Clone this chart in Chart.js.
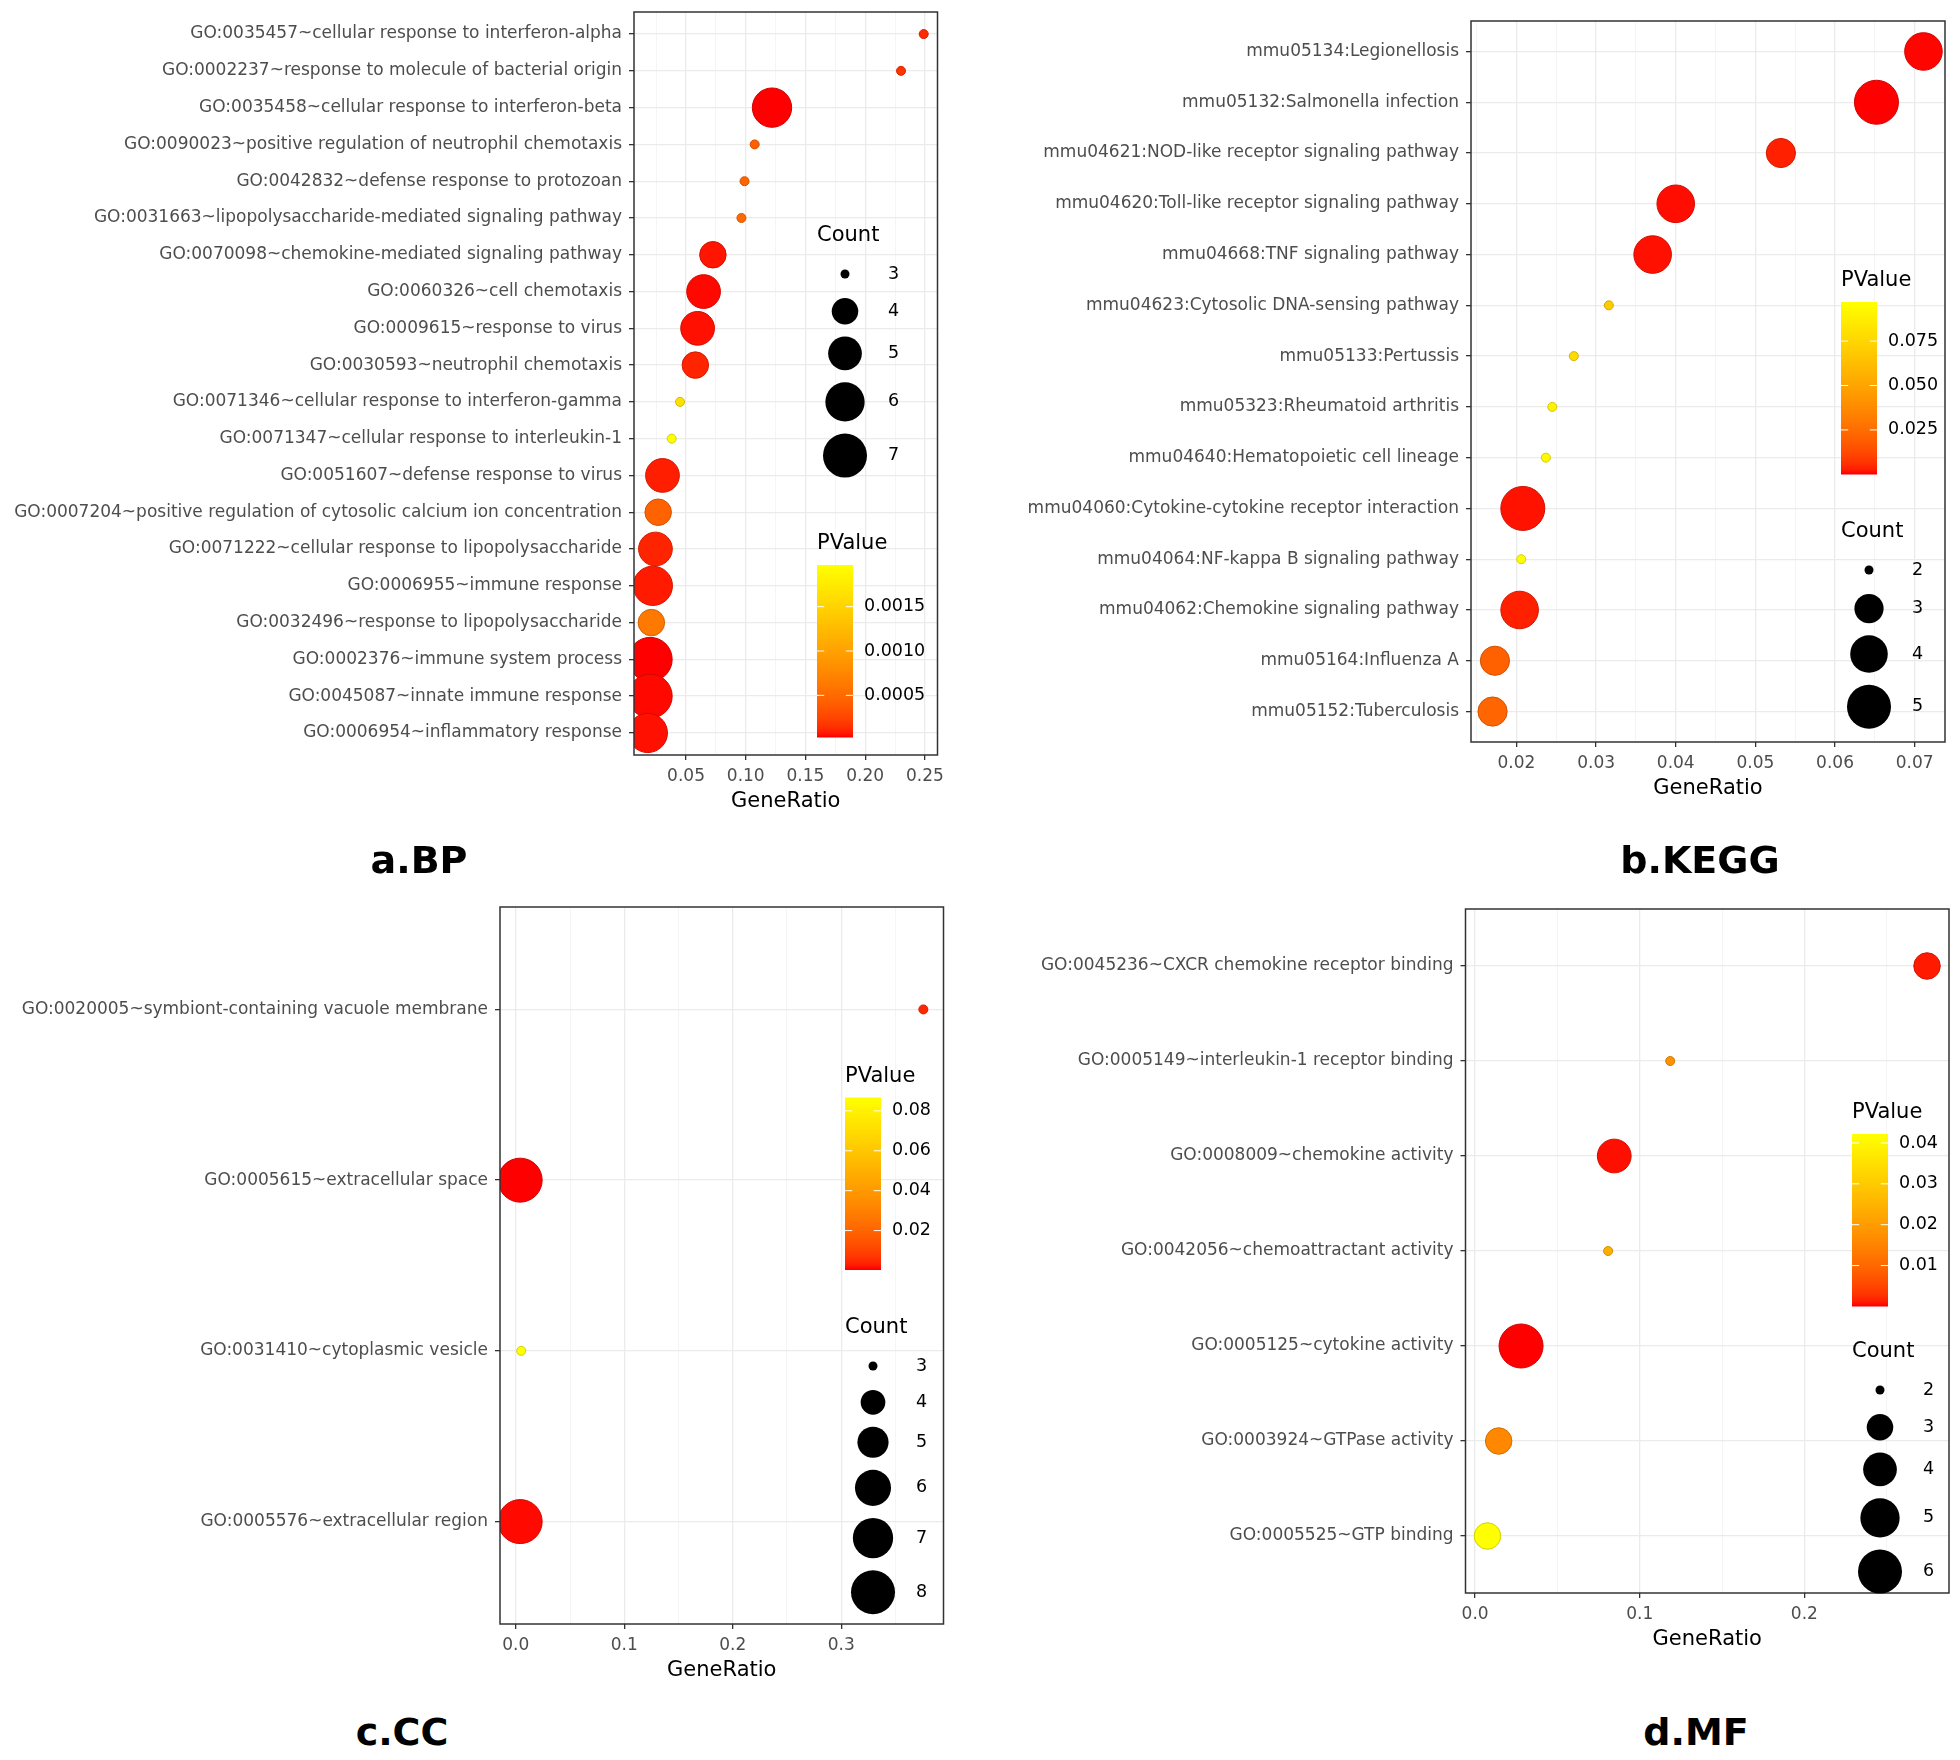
<!DOCTYPE html>
<html>
<head>
<meta charset="utf-8">
<script src="https://cdn.jsdelivr.net/npm/chart.js@4.4.1/dist/chart.umd.min.js"></script>
<style>
body { margin: 0; background: #fff; }
#page { position: relative; width: 1960px; height: 1760px; overflow: hidden; }
#page canvas { position: absolute; }
.tag { position: absolute; width: 240px; text-align: center; font: bold 38px "DejaVu Sans", sans-serif; line-height: 38px; color: #000; }
</style>
</head>
<body>
<div id="page">
  <canvas id="bp" width="980" height="840" style="left:0;top:0"></canvas>
  <canvas id="kegg" width="980" height="840" style="left:980px;top:0"></canvas>
  <canvas id="cc" width="980" height="820" style="left:0;top:880px"></canvas>
  <canvas id="mf" width="980" height="820" style="left:980px;top:880px"></canvas>
  <div class="tag" style="left:299px;top:841px">a.BP</div>
  <div class="tag" style="left:1580px;top:841px">b.KEGG</div>
  <div class="tag" style="left:282px;top:1713px">c.CC</div>
  <div class="tag" style="left:1576px;top:1713px">d.MF</div>
</div>
<script>
// ---- a. BP ----
const bpTerms = [
  'GO:0035457~cellular response to interferon-alpha',
  'GO:0002237~response to molecule of bacterial origin',
  'GO:0035458~cellular response to interferon-beta',
  'GO:0090023~positive regulation of neutrophil chemotaxis',
  'GO:0042832~defense response to protozoan',
  'GO:0031663~lipopolysaccharide-mediated signaling pathway',
  'GO:0070098~chemokine-mediated signaling pathway',
  'GO:0060326~cell chemotaxis',
  'GO:0009615~response to virus',
  'GO:0030593~neutrophil chemotaxis',
  'GO:0071346~cellular response to interferon-gamma',
  'GO:0071347~cellular response to interleukin-1',
  'GO:0051607~defense response to virus',
  'GO:0007204~positive regulation of cytosolic calcium ion concentration',
  'GO:0071222~cellular response to lipopolysaccharide',
  'GO:0006955~immune response',
  'GO:0032496~response to lipopolysaccharide',
  'GO:0002376~immune system process',
  'GO:0045087~innate immune response',
  'GO:0006954~inflammatory response'
];
const bpRatio = [0.249, 0.230, 0.122, 0.1075, 0.099, 0.0964, 0.0725, 0.0647, 0.0597, 0.0578,
                 0.045, 0.038, 0.0303, 0.0267, 0.0244, 0.0222, 0.0210, 0.0200, 0.0200, 0.018];
const bpCount = [3, 3, 6, 3, 3, 3, 4, 5, 5, 4, 3, 3, 5, 4, 5, 6, 4, 7, 7, 6];
const bpPValue = [0.00012, 0.00015, 0.00003, 0.00042, 0.00045, 0.0005, 0.00006, 0.00004, 0.00005, 0.0001,
                  0.00165, 0.00197, 0.00008, 0.00045, 0.0001, 0.00007, 0.00062, 0.00003, 0.00004, 0.00005];
const bpXTicks = ['0.05', '0.10', '0.15', '0.20', '0.25'];
const bpCountBreaks = [3, 4, 5, 6, 7];
const bpPTicks = ['0.0005', '0.0010', '0.0015'];

// ---- b. KEGG ----
const keggTerms = [
  'mmu05134:Legionellosis',
  'mmu05132:Salmonella infection',
  'mmu04621:NOD-like receptor signaling pathway',
  'mmu04620:Toll-like receptor signaling pathway',
  'mmu04668:TNF signaling pathway',
  'mmu04623:Cytosolic DNA-sensing pathway',
  'mmu05133:Pertussis',
  'mmu05323:Rheumatoid arthritis',
  'mmu04640:Hematopoietic cell lineage',
  'mmu04060:Cytokine-cytokine receptor interaction',
  'mmu04064:NF-kappa B signaling pathway',
  'mmu04062:Chemokine signaling pathway',
  'mmu05164:Influenza A',
  'mmu05152:Tuberculosis'
];
const keggRatio = [0.0711, 0.0652, 0.0532, 0.0400, 0.0371, 0.0316, 0.0272, 0.0245, 0.0237, 0.0208, 0.0206, 0.0204, 0.0173, 0.0170];
const keggCount = [4, 5, 3, 4, 4, 2, 2, 2, 2, 5, 2, 4, 3, 3];
const keggPValue = [0.0005, 0.0002, 0.003, 0.001, 0.0012, 0.070, 0.078, 0.090, 0.093, 0.0015, 0.097, 0.003, 0.020, 0.022];
const keggXTicks = ['0.02', '0.03', '0.04', '0.05', '0.06', '0.07'];
const keggCountBreaks = [2, 3, 4, 5];
const keggPTicks = ['0.025', '0.050', '0.075'];

// ---- c. CC ----
const ccTerms = [
  'GO:0020005~symbiont-containing vacuole membrane',
  'GO:0005615~extracellular space',
  'GO:0031410~cytoplasmic vesicle',
  'GO:0005576~extracellular region'
];
const ccRatio = [0.3757, 0.004, 0.005, 0.004];
const ccCount = [3, 8, 3, 8];
const ccPValue = [0.004, 0.0005, 0.0867, 0.001];
const ccXTicks = ['0.0', '0.1', '0.2', '0.3'];
const ccCountBreaks = [3, 4, 5, 6, 7, 8];
const ccPTicks = ['0.02', '0.04', '0.06', '0.08'];

// ---- d. MF ----
const mfTerms = [
  'GO:0045236~CXCR chemokine receptor binding',
  'GO:0005149~interleukin-1 receptor binding',
  'GO:0008009~chemokine activity',
  'GO:0042056~chemoattractant activity',
  'GO:0005125~cytokine activity',
  'GO:0003924~GTPase activity',
  'GO:0005525~GTP binding'
];
const mfRatio = [0.2745, 0.1185, 0.0845, 0.0808, 0.0279, 0.0143, 0.0075];
const mfCount = [3, 2, 4, 2, 6, 3, 3];
const mfPValue = [0.001, 0.018, 0.0005, 0.024, 0.0001, 0.016, 0.0422];
const mfXTicks = ['0.0', '0.1', '0.2'];
const mfCountBreaks = [2, 3, 4, 5, 6];
const mfPTicks = ['0.01', '0.02', '0.03', '0.04'];

// red -> yellow gradient, interpolated in Lab like ggplot's scale_colour_gradient
const toLin = c => { c /= 255; return c <= 0.04045 ? c / 12.92 : Math.pow((c + 0.055) / 1.055, 2.4); };
const fromLin = c => {
  c = c <= 0.0031308 ? 12.92 * c : 1.055 * Math.pow(c, 1 / 2.4) - 0.055;
  return Math.round(Math.min(1, Math.max(0, c)) * 255);
};
function rgb2lab(rgb) {
  const [r, g, b] = rgb.map(toLin);
  const x = (0.4124 * r + 0.3576 * g + 0.1805 * b) / 0.95047;
  const y = 0.2126 * r + 0.7152 * g + 0.0722 * b;
  const z = (0.0193 * r + 0.1192 * g + 0.9505 * b) / 1.08883;
  const f = t => t > 0.008856 ? Math.cbrt(t) : 7.787 * t + 16 / 116;
  return [116 * f(y) - 16, 500 * (f(x) - f(y)), 200 * (f(y) - f(z))];
}
function lab2rgb([L, a, bb]) {
  const fy = (L + 16) / 116, fx = fy + a / 500, fz = fy - bb / 200;
  const inv = t => t > 0.206893 ? t * t * t : (t - 16 / 116) / 7.787;
  const x = inv(fx) * 0.95047, y = inv(fy), z = inv(fz) * 1.08883;
  return [
    fromLin(3.2406 * x - 1.5372 * y - 0.4986 * z),
    fromLin(-0.9689 * x + 1.8758 * y + 0.0415 * z),
    fromLin(0.0557 * x - 0.2040 * y + 1.0570 * z)
  ];
}
const labLow = rgb2lab([255, 0, 0]);
const labHigh = rgb2lab([255, 255, 0]);
const gradient = t => lab2rgb(labLow.map((v, i) => v + (labHigh[i] - v) * t));
const rgbStr = (c, k = 1) => `rgb(${Math.round(c[0] * k)},${Math.round(c[1] * k)},${Math.round(c[2] * k)})`;

// area-proportional point size (ggplot scale_size, range 1..6)
const radius = (c, cmin, cmax) => 3.5 * (1 + 5 * Math.sqrt((c - cmin) / (cmax - cmin))) + 1;

const FONT = '"DejaVu Sans", sans-serif';

function legendPlugin(spec) {
  return {
    id: 'ggDecor',
    afterDatasetsDraw(chart) {
      const {ctx, chartArea: a} = chart;
      ctx.save();
      ctx.strokeStyle = '#333';
      ctx.lineWidth = 1.5;
      ctx.strokeRect(a.left, a.top, a.right - a.left, a.bottom - a.top);

      const L = spec.x;
      ctx.fillStyle = '#000';
      ctx.textAlign = 'left';
      ctx.textBaseline = 'middle';

      // PValue colourbar
      const barW = 36, barH = 172, top = spec.pvTop;
      ctx.font = `21px ${FONT}`;
      ctx.fillText('PValue', L, top - 21);
      for (let i = 0; i < barH; i++) {
        ctx.fillStyle = rgbStr(gradient(1 - i / (barH - 1)));
        ctx.fillRect(L, top + i, barW, 1.5);
      }
      ctx.font = `17.5px ${FONT}`;
      ctx.strokeStyle = '#fff';
      ctx.lineWidth = 1;
      spec.pTicks.forEach(s => {
        const v = Number(s);
        const y = top + (1 - (v - spec.pmin) / (spec.pmax - spec.pmin)) * barH;
        ctx.beginPath();
        ctx.moveTo(L, y); ctx.lineTo(L + barW / 5, y);
        ctx.moveTo(L + barW, y); ctx.lineTo(L + barW * 4 / 5, y);
        ctx.stroke();
        ctx.fillStyle = '#000';
        ctx.fillText(s, L + 47, y);
      });

      // Count size legend
      ctx.font = `21px ${FONT}`;
      ctx.fillText('Count', L, spec.countTop - 38);
      ctx.font = `17.5px ${FONT}`;
      let y = spec.countTop, prevH = null;
      spec.breaks.forEach(c => {
        const r = radius(c, spec.cmin, spec.cmax);
        const h = Math.max(36, 2 * r + 12);
        if (prevH !== null) y += (prevH + h) / 2;
        prevH = h;
        ctx.fillStyle = '#000';
        ctx.beginPath();
        ctx.arc(L + 28, y, r, 0, Math.PI * 2);
        ctx.fill();
        ctx.fillText(String(c), L + 71, y);
      });
      ctx.restore();
    }
  };
}

function makePanel(id, terms, ratio, count, pvalue, xTicks, countBreaks, pTicks, lay) {
  const xmin = Math.min(...ratio), xmax = Math.max(...ratio);
  const xpad = 0.05 * (xmax - xmin);
  const pmin = Math.min(...pvalue), pmax = Math.max(...pvalue);
  const cmin = Math.min(...count), cmax = Math.max(...count);
  const majors = xTicks.map(Number);
  const step = majors[1] - majors[0];
  const lo = xmin - xpad, hi = xmax + xpad;
  const minors = [majors[0] - step / 2, ...majors.map(v => v + step / 2)].filter(v => v > lo && v < hi);
  const cols = pvalue.map(p => gradient((p - pmin) / (pmax - pmin)));

  const canvas = document.getElementById(id);
  new Chart(canvas.getContext('2d'), {
    type: 'bubble',
    data: {
      datasets: [{
        data: ratio.map((x, i) => ({x: x, y: i, r: radius(count[i], cmin, cmax)})),
        backgroundColor: cols.map(c => rgbStr(c)),
        borderColor: cols.map(c => rgbStr(c, 0.82)),
        borderWidth: 1,
        clip: 0
      }]
    },
    options: {
      responsive: false,
      animation: false,
      events: [],
      layout: {
        autoPadding: false,
        padding: {
          left: 0,
          top: lay.top,
          right: canvas.width - lay.right,
          bottom: canvas.height - lay.bottom - 60
        }
      },
      plugins: {legend: {display: false}, tooltip: {enabled: false}},
      scales: {
        x: {
          type: 'linear',
          min: lo,
          max: hi,
          bounds: 'data',
          afterBuildTicks: s => {
            s.ticks = majors.map(v => ({value: v}))
              .concat(minors.map(v => ({value: v, minor: true})))
              .sort((p, q) => p.value - q.value);
          },
          afterFit: s => { s.height = 60; s.paddingLeft = 0; s.paddingRight = 0; },
          grid: {
            color: c => (c.tick && c.tick.minor) ? '#F3F3F3' : '#EBEBEB',
            lineWidth: c => (c.tick && c.tick.minor) ? 0.8 : 1.3,
            tickColor: c => (c.tick && c.tick.minor) ? 'rgba(0,0,0,0)' : '#333',
            tickLength: 5
          },
          border: {display: false},
          ticks: {
            autoSkip: false,
            maxRotation: 0,
            padding: 6,
            color: '#4D4D4D',
            font: {family: FONT, size: 17},
            callback: v => {
              const k = majors.findIndex(t => Math.abs(t - v) < 1e-9);
              return k < 0 ? '' : xTicks[k];
            }
          },
          title: {
            display: true,
            text: 'GeneRatio',
            color: '#000',
            font: {family: FONT, size: 21},
            padding: {top: 0, bottom: 1}
          }
        },
        y: {
          type: 'linear',
          reverse: true,
          min: -0.6,
          max: terms.length - 0.4,
          bounds: 'data',
          afterBuildTicks: s => { s.ticks = terms.map((t, i) => ({value: i})); },
          afterFit: s => { s.width = lay.left; s.paddingTop = 0; s.paddingBottom = 0; },
          grid: {color: '#EBEBEB', lineWidth: 1.3, tickColor: '#333', tickLength: 5},
          border: {display: false},
          ticks: {
            autoSkip: false,
            padding: 7,
            color: '#4D4D4D',
            font: {family: FONT, size: 17},
            callback: v => terms[v]
          }
        }
      }
    },
    plugins: [legendPlugin({
      x: lay.legendX, pvTop: lay.pvTop, countTop: lay.countTop,
      pTicks: pTicks, pmin: pmin, pmax: pmax,
      breaks: countBreaks, cmin: cmin, cmax: cmax
    })]
  });
}

makePanel('bp', bpTerms, bpRatio, bpCount, bpPValue, bpXTicks, bpCountBreaks, bpPTicks,
  {left: 634, top: 12, right: 937.5, bottom: 755, legendX: 817, pvTop: 565, countTop: 274});
makePanel('kegg', keggTerms, keggRatio, keggCount, keggPValue, keggXTicks, keggCountBreaks, keggPTicks,
  {left: 491, top: 21, right: 965, bottom: 742, legendX: 861, pvTop: 302, countTop: 570});
makePanel('cc', ccTerms, ccRatio, ccCount, ccPValue, ccXTicks, ccCountBreaks, ccPTicks,
  {left: 500, top: 27, right: 943.5, bottom: 744, legendX: 845, pvTop: 217.5, countTop: 486});
makePanel('mf', mfTerms, mfRatio, mfCount, mfPValue, mfXTicks, mfCountBreaks, mfPTicks,
  {left: 485.5, top: 29, right: 969, bottom: 713, legendX: 872, pvTop: 254, countTop: 510});
</script>
</body>
</html>
